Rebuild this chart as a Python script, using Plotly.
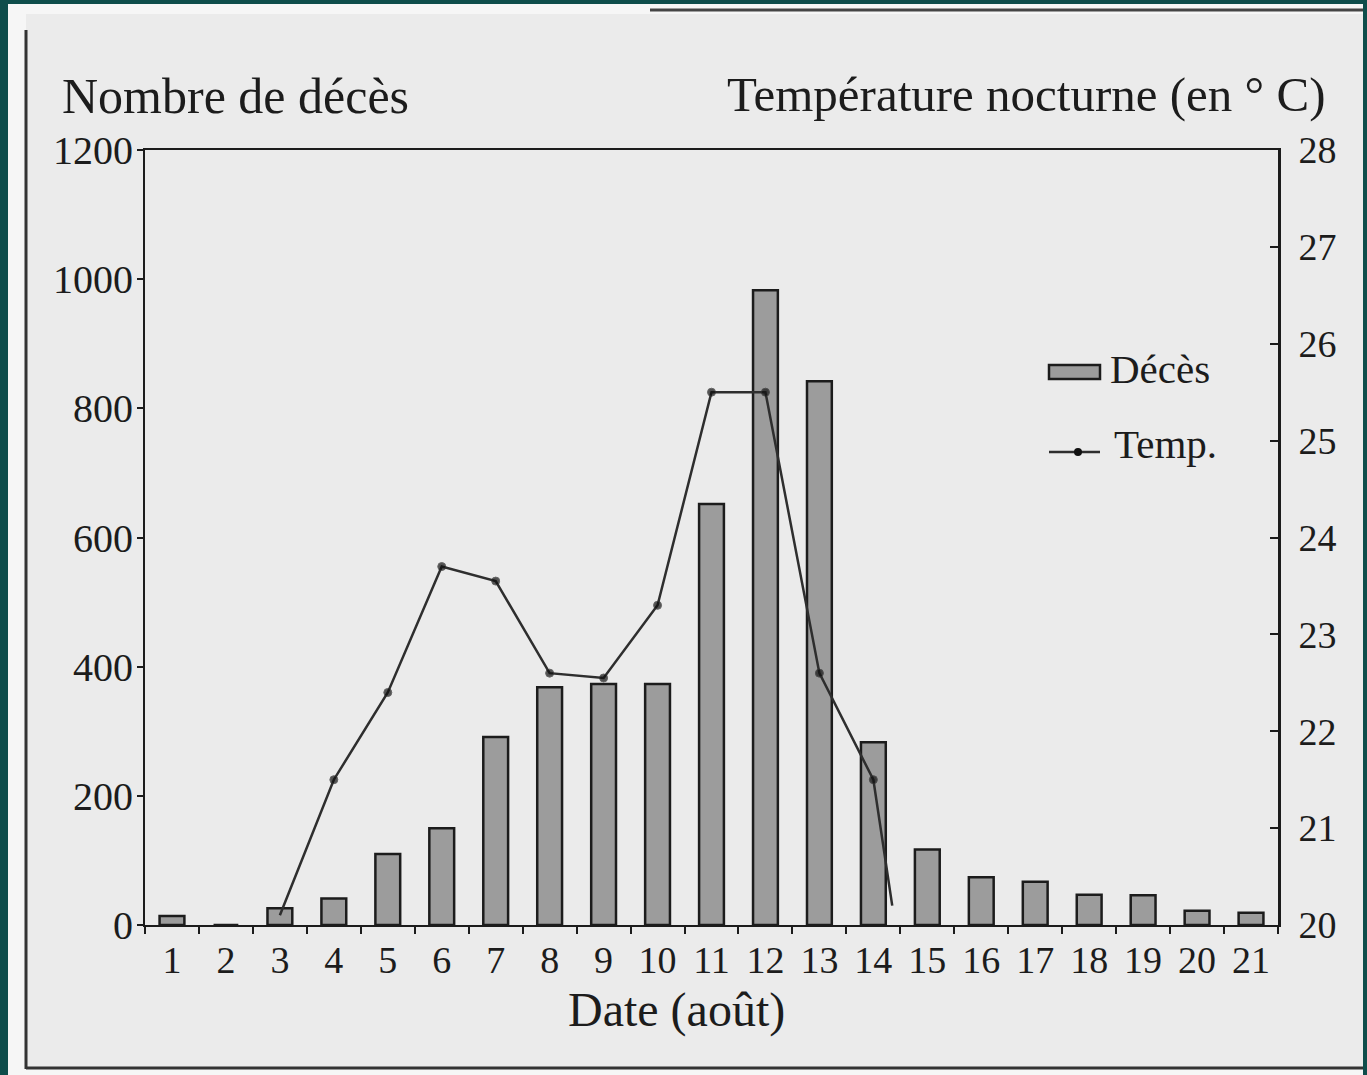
from plotly import graph_objects as go

# data (August heat wave)
days = [str(d) for d in range(1, 22)]
deces = [14, 0, 26, 41, 110, 150, 291, 368, 373, 373, 652, 983, 842, 283,
         117, 74, 67, 47, 46, 22, 19]

temp_days = [3, 4, 5, 6, 7, 8, 9, 10, 11, 12, 13, 14, 14.35]
temp = [20.1, 21.5, 22.4, 23.7, 23.55, 22.6, 22.55, 23.3, 25.5, 25.5, 22.6, 21.5, 20.2]
temp_marker = [0, 8, 8, 8, 8, 8, 8, 8, 8, 8, 8, 8, 0]

left_ticks = [0, 200, 400, 600, 800, 1000, 1200]
right_ticks = [20, 21, 22, 23, 24, 25, 26, 27, 28]

FONT = "Liberation Serif"
INK = "#1c1c1c"
TEAL = "#0e4d4b"
W, H = 1367, 1075
L, R, T, B = 145, 89, 150, 150


def px(x):
    return (x - L) / (W - L - R)


def py(y):
    return (H - B - y) / (H - T - B)


fig = go.Figure()
fig.add_trace(go.Bar(x=days, y=deces, name="Décès", width=0.46,
                     marker=dict(color="#9c9c9c", line=dict(color=INK, width=2.5))))
fig.add_trace(go.Scatter(x=temp_days, y=temp, name="Temp.", xaxis="x2", yaxis="y2",
                         mode="lines+markers",
                         line=dict(color="#2e2e2e", width=2.5),
                         marker=dict(color="#111111", size=temp_marker)))

fig.update_layout(
    width=W, height=H,
    margin=dict(l=L, r=R, t=T, b=B),
    paper_bgcolor=TEAL,
    plot_bgcolor="rgba(0,0,0,0)",
    font=dict(family=FONT, color=INK, size=36),
    showlegend=False,
    xaxis=dict(type="category", range=[-0.5, 20.5], tickson="boundaries",
               ticks="outside", ticklen=7, tickwidth=1.5, tickcolor=INK,
               showline=True, linecolor=INK, linewidth=2, mirror=True,
               showgrid=False, zeroline=False, tickfont=dict(size=38)),
    xaxis2=dict(overlaying="x", range=[0.5, 21.5], visible=False),
    yaxis=dict(range=[0, 1200], tickvals=left_ticks, ticks="outside", ticklen=6,
               tickwidth=1.5, tickcolor=INK, showline=True, linecolor=INK,
               linewidth=2, showgrid=False, zeroline=False,
               ticklabelstandoff=-4, tickfont=dict(size=40)),
    yaxis2=dict(overlaying="y", side="right", range=[20, 28], tickvals=right_ticks,
                ticks="inside", ticklen=8, tickwidth=1.5, tickcolor=INK,
                showline=True, linecolor=INK, linewidth=3, showgrid=False,
                zeroline=False, ticklabelstandoff=10, tickfont=dict(size=38)),
    barmode="overlay",
)

# scanned page look
fig.add_shape(type="rect", xref="paper", yref="paper", layer="below",
              x0=px(8), x1=px(1363), y0=py(4), y1=py(1075),
              fillcolor="#f6f6f6", line=dict(width=0))
fig.add_shape(type="rect", xref="paper", yref="paper", layer="below",
              x0=px(26), x1=px(1363), y0=py(14), y1=py(1067),
              fillcolor="#ebebeb", line=dict(width=0))
fig.add_shape(type="line", xref="paper", yref="paper",
              x0=px(26), x1=px(26), y0=py(30), y1=py(1069),
              line=dict(color="#333333", width=3))
fig.add_shape(type="line", xref="paper", yref="paper",
              x0=px(26), x1=px(1363), y0=py(1068), y1=py(1068),
              line=dict(color="#333333", width=3))
fig.add_shape(type="line", xref="paper", yref="paper",
              x0=px(650), x1=px(1363), y0=py(10), y1=py(10),
              line=dict(color="#444444", width=3))

# legend drawn by hand (wide bar swatch like the original)
fig.add_shape(type="rect", xref="paper", yref="paper",
              x0=px(1049), x1=px(1100), y0=py(379), y1=py(365),
              fillcolor="#9c9c9c", line=dict(color=INK, width=2.5))
fig.add_shape(type="line", xref="paper", yref="paper",
              x0=px(1049), x1=px(1100), y0=py(452), y1=py(452),
              line=dict(color="#2e2e2e", width=2.5))
fig.add_shape(type="circle", xref="paper", yref="paper",
              x0=px(1074), x1=px(1082), y0=py(448), y1=py(456),
              fillcolor="#111111", line=dict(width=0))
fig.add_annotation(text="Décès", xref="paper", yref="paper",
                   x=px(1108), y=py(369), xanchor="left", yanchor="middle",
                   showarrow=False, font=dict(size=41, color=INK))
fig.add_annotation(text="Temp.", xref="paper", yref="paper",
                   x=px(1112), y=py(444), xanchor="left", yanchor="middle",
                   showarrow=False, font=dict(size=41, color=INK))

fig.add_annotation(text="Nombre de décès", xref="paper", yref="paper",
                   x=px(60), y=py(96), xanchor="left", yanchor="middle",
                   showarrow=False, font=dict(size=50, color=INK))
fig.add_annotation(text="Température nocturne (en ° C)", xref="paper", yref="paper",
                   x=px(1327), y=py(95), xanchor="right", yanchor="middle",
                   showarrow=False, font=dict(size=49, color=INK))
fig.add_annotation(text="Date (août)", xref="paper", yref="paper",
                   x=px(676), y=py(1010), xanchor="center", yanchor="middle",
                   showarrow=False, font=dict(size=48, color=INK))

fig.write_html("out.html", config={"displayModeBar": False},
               post_script="document.body.style.margin='0';"
                           "document.body.style.background='" + TEAL + "';")
